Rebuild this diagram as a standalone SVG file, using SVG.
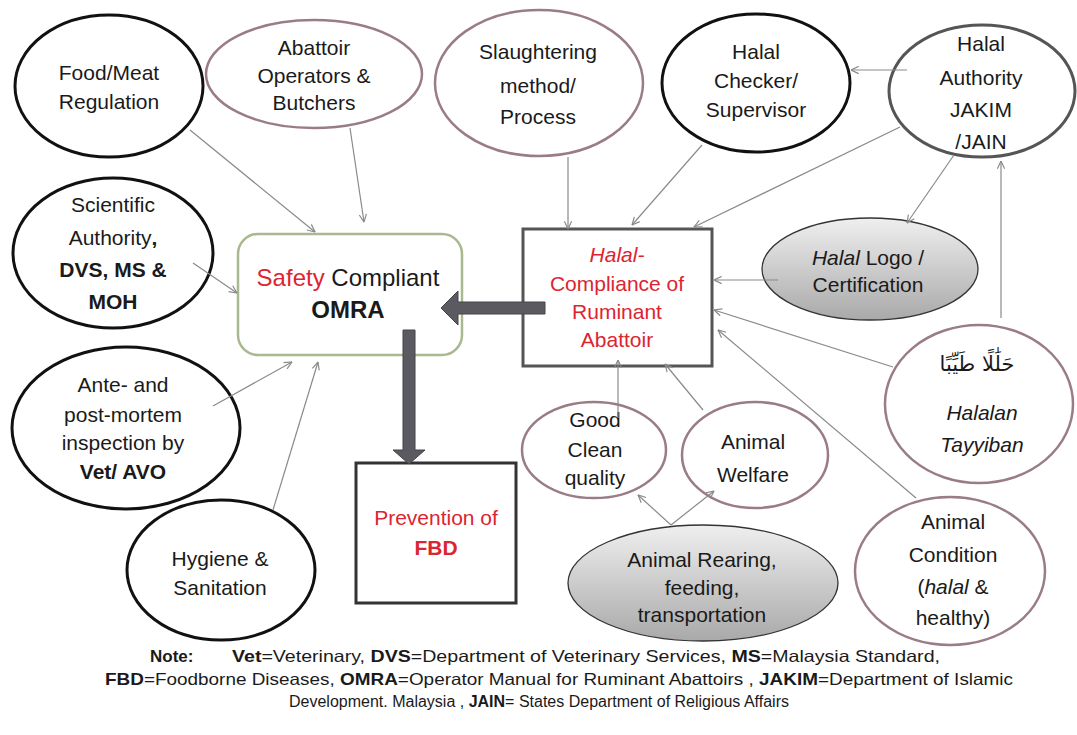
<svg xmlns="http://www.w3.org/2000/svg" width="1077" height="735" viewBox="0 0 1077 735">
<defs>
<linearGradient id="gr" x1="0" y1="0" x2="0" y2="1">
<stop offset="0" stop-color="#efefef"/>
<stop offset="1" stop-color="#a9a9a9"/>
</linearGradient>
<marker id="ah" viewBox="0 0 10 10" refX="9.5" refY="5" markerWidth="9" markerHeight="9" markerUnits="userSpaceOnUse" orient="auto">
<path d="M1,1 L9.5,5 L1,9" fill="none" stroke="#8a8a8a" stroke-width="1.3"/>
</marker>
<style>
text{font-family:"Liberation Sans",Arial,sans-serif;font-size:21px;fill:#1a1a1a;text-anchor:middle}
.blk{fill:#fff;stroke:#111;stroke-width:3}
.mau{fill:#fff;stroke:#9a7d84;stroke-width:2.5}
.gry{fill:url(#gr);stroke:#333;stroke-width:1.3}
.red{fill:#dc2530}
.b{font-weight:bold}
.i{font-style:italic}
.con line{stroke:#8a8a8a;stroke-width:1.2;marker-end:url(#ah)}
.big{fill:#5a5a60;stroke:#45454a;stroke-width:1}
.note{font-size:16.5px;text-anchor:start}
</style>
</defs>
<rect width="1077" height="735" fill="#fff"/>

<g id="n-food">
<ellipse class="blk" cx="109" cy="86" rx="94" ry="71"/>
<text x="109" y="80">Food/Meat</text>
<text x="109" y="109">Regulation</text>
</g>

<g id="n-abattoir-ops">
<ellipse class="mau" cx="314" cy="74" rx="108" ry="54"/>
<text x="314" y="55">Abattoir</text>
<text x="314" y="83">Operators &amp;</text>
<text x="314" y="110">Butchers</text>
</g>

<g id="n-slaughter">
<ellipse class="mau" cx="539" cy="83" rx="104" ry="73"/>
<text x="538" y="59">Slaughtering</text>
<text x="538" y="93">method/</text>
<text x="538" y="124">Process</text>
</g>

<g id="n-checker">
<ellipse class="blk" cx="756" cy="83" rx="94" ry="69"/>
<text x="756" y="59">Halal</text>
<text x="756" y="88">Checker/</text>
<text x="756" y="117">Supervisor</text>
</g>

<g id="n-authority">
<ellipse cx="982" cy="91" rx="93" ry="66" fill="#fff" stroke="#555" stroke-width="3"/>
<text x="981" y="51">Halal</text>
<text x="981" y="85">Authority</text>
<text x="981" y="117">JAKIM</text>
<text x="981" y="149">/JAIN</text>
</g>

<g id="n-scientific">
<ellipse class="blk" cx="113" cy="253" rx="100" ry="75"/>
<text x="113" y="212">Scientific</text>
<text x="113" y="245">Authority<tspan class="b">,</tspan></text>
<text x="113" y="277" class="b">DVS,  MS &amp;</text>
<text x="113" y="309" class="b">MOH</text>
</g>

<g id="n-ante">
<ellipse class="blk" cx="126" cy="428" rx="114" ry="81"/>
<text x="123" y="392">Ante- and</text>
<text x="123" y="422">post-mortem</text>
<text x="123" y="450">inspection by</text>
<text x="123" y="479" class="b">Vet/ AVO</text>
</g>

<g id="n-hygiene">
<ellipse class="blk" cx="221" cy="570" rx="94" ry="70"/>
<text x="220" y="566">Hygiene &amp;</text>
<text x="220" y="595">Sanitation</text>
</g>

<g id="n-safety">
<rect x="238" y="234" width="224" height="121" rx="20" fill="#fff" stroke="#a9b88f" stroke-width="2.5"/>
<text x="348" y="286" style="font-size:24px"><tspan class="red">Safety</tspan> Compliant</text>
<text x="348" y="318" class="b" style="font-size:24px">OMRA</text>
</g>

<g id="n-halal">
<rect x="523" y="229" width="189" height="137" fill="#fff" stroke="#555" stroke-width="3"/>
<text x="617" y="262" class="red i">Halal-</text>
<text x="617" y="291" class="red">Compliance of</text>
<text x="617" y="319" class="red">Ruminant</text>
<text x="617" y="347" class="red">Abattoir</text>
</g>

<g id="n-prevention">
<rect x="356" y="463" width="160" height="140" fill="#fff" stroke="#333" stroke-width="3"/>
<text x="436" y="525" class="red">Prevention of</text>
<text x="436" y="555" class="red b">FBD</text>
</g>

<g id="n-good">
<ellipse class="mau" cx="594" cy="450" rx="72" ry="48"/>
<text x="595" y="427">Good</text>
<text x="595" y="457">Clean</text>
<text x="595" y="485">quality</text>
</g>

<g id="n-welfare">
<ellipse class="mau" cx="755" cy="455" rx="73" ry="53"/>
<text x="753" y="449">Animal</text>
<text x="753" y="482">Welfare</text>
</g>

<g id="n-rearing">
<ellipse class="gry" cx="703" cy="583" rx="135" ry="58"/>
<text x="702" y="567">Animal Rearing,</text>
<text x="702" y="595">feeding,</text>
<text x="702" y="622">transportation</text>
</g>

<g id="n-logo">
<ellipse class="gry" cx="870" cy="269" rx="108" ry="51"/>
<text x="868" y="265"><tspan class="i">Halal</tspan> Logo /</text>
<text x="868" y="292">Certification</text>
</g>

<g id="n-halalan">
<ellipse class="mau" cx="979" cy="404" rx="94" ry="79"/>
<text x="977" y="371" style="font-family:'DejaVu Sans',sans-serif;font-size:21px" direction="rtl">حَلَٰلًا طَيِّبًا</text>
<text x="982" y="420" class="i">Halalan</text>
<text x="982" y="452" class="i">Tayyiban</text>
</g>

<g id="n-condition">
<ellipse class="mau" cx="950" cy="571" rx="95" ry="74"/>
<text x="953" y="529">Animal</text>
<text x="953" y="562">Condition</text>
<text x="953" y="594">(<tspan class="i">halal</tspan> &amp;</text>
<text x="953" y="625">healthy)</text>
</g>

<g id="connectors" class="con">
<line x1="190" y1="130" x2="315" y2="232"/>
<line x1="350" y1="128" x2="364" y2="222"/>
<line x1="193" y1="263" x2="237" y2="293"/>
<line x1="213" y1="406" x2="292" y2="362"/>
<line x1="273" y1="510" x2="318" y2="362"/>
<line x1="568" y1="157" x2="568" y2="229"/>
<line x1="702" y1="145" x2="632" y2="225"/>
<line x1="900" y1="127" x2="694" y2="227"/>
<line x1="907" y1="70" x2="851" y2="70"/>
<line x1="954" y1="155" x2="907" y2="223"/>
<line x1="778" y1="280" x2="714" y2="280"/>
<line x1="893" y1="367" x2="714" y2="310"/>
<line x1="916" y1="498" x2="718" y2="330"/>
<line x1="1001" y1="318" x2="1001" y2="161"/>
<line x1="618" y1="418" x2="618" y2="360"/>
<line x1="703" y1="410" x2="665" y2="364"/>
<line x1="671" y1="525" x2="638" y2="495"/>
<line x1="671" y1="525" x2="714" y2="491"/>
</g>

<g id="big-arrows">
<polygon class="big" points="545,302 458,302 458,291 441,308 458,325 458,314 545,314"/>
<polygon class="big" points="403,330 415,330 415,450 425,450 409,464 393,450 403,450"/>
</g>

<g id="note">
<text x="150" y="662" class="note b" style="font-size:17px">Note:</text>
<text x="232" y="662" class="note" textLength="708" lengthAdjust="spacingAndGlyphs"><tspan class="b">Vet</tspan>=Veterinary, <tspan class="b">DVS</tspan>=Department of Veterinary Services, <tspan class="b">MS</tspan>=Malaysia Standard,</text>
<text x="105" y="685" class="note" textLength="908" lengthAdjust="spacingAndGlyphs"><tspan class="b">FBD</tspan>=Foodborne Diseases,  <tspan class="b">OMRA</tspan>=Operator Manual for Ruminant Abattoirs , <tspan class="b">JAKIM</tspan>=Department  of Islamic</text>
<text x="539" y="707" style="font-size:16px">Development. Malaysia ,  <tspan class="b">JAIN</tspan>= States Department of Religious Affairs</text>
</g>
</svg>
